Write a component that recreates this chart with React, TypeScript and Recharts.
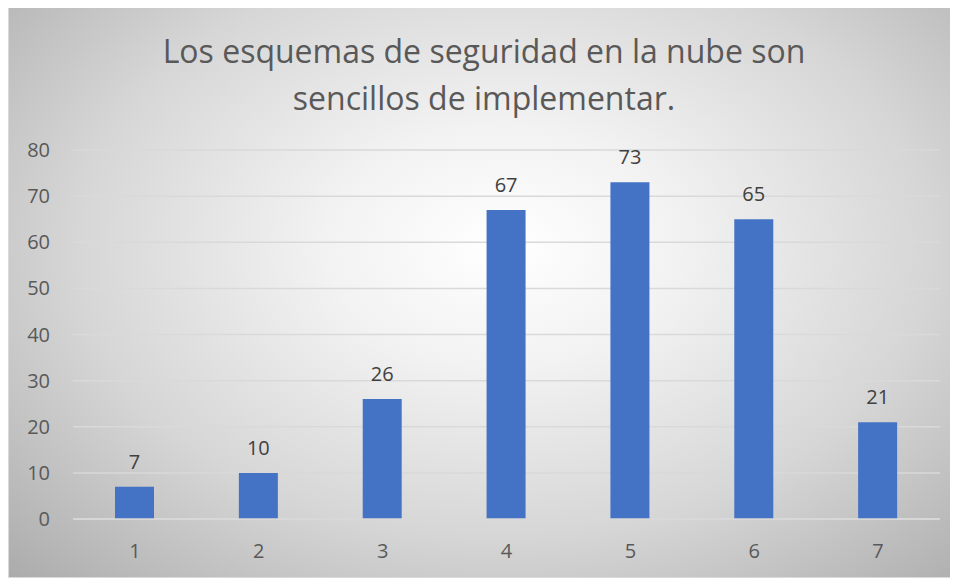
import React from "react";
import { BarChart, Bar, XAxis, YAxis, CartesianGrid, LabelList } from "recharts";

const categories = ["1", "2", "3", "4", "5", "6", "7"];
const values = [7, 10, 26, 67, 73, 65, 21];
const yTicks = [0, 10, 20, 30, 40, 50, 60, 70, 80];
const titleLines = ["Los esquemas de seguridad en la nube son", "sencillos de implementar."];

const data = categories.map((c, i) => ({ name: c, value: values[i] }));

const FONT = "'Open Sans', 'Noto Sans', sans-serif";

export default function App() {
  return (
    <div
      style={{
        position: "relative",
        width: 950,
        height: 572,
        marginTop: -2,
        boxSizing: "border-box",
        border: "1px solid #d9d9d9",
        background:
          "radial-gradient(ellipse 75% 85% at 52% 42%, #ffffff 0%, #f2f2f2 25%, #d6d6d6 60%, #b4b4b4 90%, #a8a8a8 100%)",
        fontFamily: FONT,
      }}
    >
      <div
        style={{
          position: "absolute",
          left: 0,
          top: 20,
          width: 950,
          textAlign: "center",
          color: "#595959",
          fontSize: 32,
          lineHeight: "47px",
        }}
      >
        {titleLines.map((t, i) => (
          <div key={i}>{t}</div>
        ))}
      </div>
      <div style={{ position: "absolute", left: -1, top: -1 }}>
        <BarChart
          width={950}
          height={572}
          data={data}
          margin={{ top: 144, right: 18, bottom: 0, left: 0 }}
          barCategoryGap={0}
        >
          <CartesianGrid horizontal vertical={false} stroke="#d9d9d9" strokeWidth={1.5} />
          <XAxis
            dataKey="name"
            height={59}
            tickSize={0}
            tickMargin={25}
            axisLine={{ stroke: "#d9d9d9", strokeWidth: 1.5 }}
            tickLine={false}
            tick={{ fill: "#595959", fontSize: 20, fontFamily: FONT }}
          />
          <YAxis
            width={65}
            domain={[0, 80]}
            ticks={yTicks}
            tickSize={0}
            tickMargin={23}
            axisLine={false}
            tickLine={false}
            tick={{ fill: "#595959", fontSize: 20, fontFamily: FONT }}
          />
          <Bar dataKey="value" fill="#4472c4" barSize={39} isAnimationActive={false}>
            <LabelList
              dataKey="value"
              position="top"
              offset={18}
              fill="#404040"
              fontSize={20}
              fontFamily={FONT}
            />
          </Bar>
        </BarChart>
      </div>
    </div>
  );
}
